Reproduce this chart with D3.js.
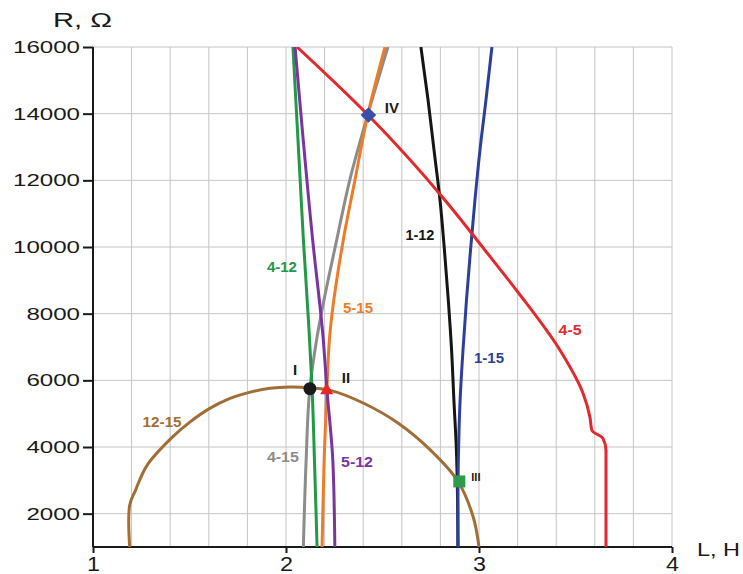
<!DOCTYPE html>
<html>
<head>
<meta charset="utf-8">
<script src="https://cdn.jsdelivr.net/npm/d3@7"></script>
<style>
  body { margin: 0; background: #fff; }
  text { font-family: "Liberation Sans", Arial, sans-serif; }
  .grid line { stroke: #c4c4c4; stroke-width: 1; }
  .axis path, .axis line { stroke: #1a1a1a; stroke-width: 2; }
  .axis text { fill: #1a1a1a; }
  .curve { fill: none; stroke-width: 3; stroke-linejoin: round; }
  .lbl { font-weight: bold; }
</style>
</head>
<body>
<div id="chart"></div>
<script>
// curves, points as [L (H), R (Ohm)]
let curve12_15 = [[1.19, 1000], [1.19, 2250], [1.22, 2700], [1.28, 3450], [1.41, 4290], [1.50, 4740], [1.605, 5160],
                  [1.71, 5460], [1.81, 5640], [1.917, 5760], [2.02, 5800], [2.12, 5780], [2.23, 5700], [2.40, 5320],
                  [2.58, 4720], [2.75, 3900], [2.89, 2980], [2.97, 1900], [3.0, 1000]];
let curve4_12 = [[2.036, 16000], [2.090, 10220], [2.119, 7530], [2.135, 5790], [2.148, 3500], [2.161, 1000]];
let curve5_12 = [[2.047, 16000], [2.138, 10220], [2.193, 7230], [2.212, 5730], [2.243, 3545], [2.253, 1000]];
let curve4_15 = [[2.528, 16000], [2.425, 14000], [2.33, 12000], [2.263, 10220], [2.159, 7230], [2.124, 5790],
                 [2.104, 3545], [2.09, 1000]];
let curve5_15 = [[2.513, 16000], [2.425, 14000], [2.357, 12000], [2.297, 10220], [2.225, 7230], [2.212, 5730],
                 [2.20, 4000], [2.187, 1000]];
let curve1_12 = [[2.699, 16000], [2.736, 14408], [2.767, 12907], [2.798, 11405], [2.821, 9904], [2.841, 8402],
                 [2.858, 6901], [2.870, 5399], [2.883, 3898], [2.889, 2396], [2.891, 1000]];
let curve1_15 = [[3.067, 16000], [3.036, 14408], [3.005, 12907], [2.979, 11405], [2.956, 9904], [2.935, 8402],
                 [2.917, 6901], [2.902, 5399], [2.894, 3898], [2.891, 2396], [2.891, 1000]];
let curve4_5 = [[2.057, 16000], [2.425, 13958], [2.824, 11405], [3.031, 9904], [3.202, 8643], [3.42, 6901],
                [3.539, 5610], [3.575, 4889], [3.585, 4499], [3.642, 4258], [3.658, 3898], [3.658, 1000]];

// solution points I..IV
let pointNames = ['I', 'II', 'III', 'IV'];
let pointL = [2.124, 2.211, 2.898, 2.427];
let pointR = [5751, 5700, 2967, 13958];

let xTicks = [1, 2, 3, 4];
let yTicks = [2000, 4000, 6000, 8000, 10000, 12000, 14000, 16000];

//setting svg size and margins
let svgWidth = 743;
let svgHeight = 574;
let margin = {top: 47, right: 71, bottom: 27, left: 93};
let width = svgWidth - margin.left - margin.right;
let height = svgHeight - margin.top - margin.bottom;

let svg = d3.select('#chart').append('svg')
            .attr('width', svgWidth)
            .attr('height', svgHeight);

let g = svg.append('g').attr('transform', `translate(${margin.left}, ${margin.top})`);

let x = d3.scaleLinear().domain([1, 4]).range([0, width]);
let y = d3.scaleLinear().domain([1000, 16000]).range([height, 0]);

//grid
let grid = g.append('g').attr('class', 'grid');
grid.selectAll('.vg').data(d3.range(6, 21).map(d => d / 5))
    .enter().append('line')
    .attr('x1', d => x(d)).attr('x2', d => x(d))
    .attr('y1', 0).attr('y2', height);
grid.selectAll('.hg').data(yTicks)
    .enter().append('line')
    .attr('x1', 0).attr('x2', width)
    .attr('y1', d => y(d)).attr('y2', d => y(d));

//axes
let yAxis = g.append('g').attr('class', 'axis')
             .call(d3.axisLeft(y).tickValues(yTicks).tickSize(10).tickSizeOuter(0).tickPadding(3).tickFormat(d3.format('d')));
yAxis.selectAll('text')
     .attr('font-size', 17)
     .attr('textLength', d => String(d).length * 13.4)
     .attr('lengthAdjust', 'spacingAndGlyphs');

let xAxis = g.append('g').attr('class', 'axis')
             .attr('transform', `translate(0, ${height})`)
             .call(d3.axisBottom(x).tickValues(xTicks).tickSize(6).tickSizeOuter(0).tickPadding(3).tickFormat(d3.format('d')));
xAxis.selectAll('text')
     .attr('font-size', 21)
     .attr('textLength', 13)
     .attr('lengthAdjust', 'spacingAndGlyphs');
yAxis.select('.domain').attr('d', `M0,0V${height}`);
xAxis.select('.domain').attr('d', `M0,0H${width}`);

//axis titles
svg.append('text').attr('x', 53).attr('y', 27)
   .attr('font-size', 21).attr('fill', '#1a1a1a')
   .attr('textLength', 59).attr('lengthAdjust', 'spacingAndGlyphs')
   .text('R, Ω');
svg.append('text').attr('x', 697).attr('y', 556)
   .attr('font-size', 19).attr('fill', '#1a1a1a')
   .attr('textLength', 43).attr('lengthAdjust', 'spacingAndGlyphs')
   .text('L, H');

//curves
g.append('clipPath').attr('id', 'plotClip')
 .append('rect').attr('width', width).attr('height', height);

let lineR = d3.line()
              .x(d => x(d[0]))
              .y(d => y(d[1]))
              .curve(d3.curveMonotoneY);
let lineArc = d3.line()
                .x(d => x(d[0]))
                .y(d => y(d[1]))
                .curve(d3.curveCatmullRom.alpha(0.5));

let curves = [
    {pts: curve12_15, color: '#a26e36', gen: lineArc},
    {pts: curve4_15, color: '#8c8c8c', gen: lineR},
    {pts: curve4_12, color: '#229946', gen: lineR},
    {pts: curve5_15, color: '#f07b26', gen: lineR},
    {pts: curve5_12, color: '#7b33a3', gen: lineR},
    {pts: curve1_12, color: '#151515', gen: lineR},
    {pts: curve1_15, color: '#2c3f9f', gen: lineR},
    {pts: curve4_5, color: '#e5282b', gen: lineR}
];

let curveGroup = g.append('g').attr('clip-path', 'url(#plotClip)');
curveGroup.selectAll('path')
          .data(curves)
          .enter()
          .append('path')
          .attr('class', 'curve')
          .attr('stroke', d => d.color)
          .attr('d', d => d.gen(d.pts));

//markers
let markers = g.append('g');
markers.append('circle')
       .attr('cx', x(pointL[0])).attr('cy', y(pointR[0]))
       .attr('r', 6.5).attr('fill', '#1a1a1a');
markers.append('path')
       .attr('transform', `translate(${x(pointL[1])}, ${y(pointR[1])})`)
       .attr('d', d3.symbol(d3.symbolTriangle, 75)())
       .attr('fill', '#e8262a');
markers.append('rect')
       .attr('x', x(pointL[2]) - 6).attr('y', y(pointR[2]) - 6)
       .attr('width', 12).attr('height', 12)
       .attr('fill', '#2e9a4a');
markers.append('rect')
       .attr('transform', `translate(${x(pointL[3])}, ${y(pointR[3])}) rotate(45)`)
       .attr('x', -5.5).attr('y', -5.5)
       .attr('width', 11).attr('height', 11)
       .attr('fill', '#3a4fa8');

//curve labels, anchored in data units
let labels = [
    {t: '4-12', L: 1.979, R: 9243, c: '#229946', w: 30},
    {t: '5-15', L: 2.373, R: 8012, c: '#f07b26', w: 30},
    {t: '1-12', L: 2.694, R: 10204, c: '#151515', w: 29},
    {t: '1-15', L: 3.052, R: 6510, c: '#2c3f9f', w: 30},
    {t: '4-5', L: 3.472, R: 7351, c: '#e5282b', w: 23},
    {t: '12-15', L: 1.358, R: 4589, c: '#a26e36', w: 39},
    {t: '4-15', L: 1.984, R: 3538, c: '#8c8c8c', w: 32},
    {t: '5-12', L: 2.368, R: 3387, c: '#7b33a3', w: 32}
];
g.selectAll('.lbl')
 .data(labels)
 .enter()
 .append('text')
 .attr('class', 'lbl')
 .attr('x', d => x(d.L) - d.w / 2)
 .attr('y', d => y(d.R))
 .attr('font-size', 14)
 .attr('fill', d => d.c)
 .attr('textLength', d => d.w)
 .attr('lengthAdjust', 'spacingAndGlyphs')
 .text(d => d.t);

let pointLabelL = [2.047, 2.311, 2.984, 2.549];
let pointLabelR = [6150, 5910, 2967, 14018];
let pointLabelSize = [15, 15, 11, 15];
g.selectAll('.plbl')
 .data(pointNames)
 .enter()
 .append('text')
 .attr('class', 'lbl')
 .attr('x', (d, i) => x(pointLabelL[i]))
 .attr('y', (d, i) => y(pointLabelR[i]))
 .attr('text-anchor', 'middle')
 .attr('font-size', (d, i) => pointLabelSize[i])
 .attr('fill', '#1a1a1a')
 .text(d => d);
</script>
</body>
</html>
